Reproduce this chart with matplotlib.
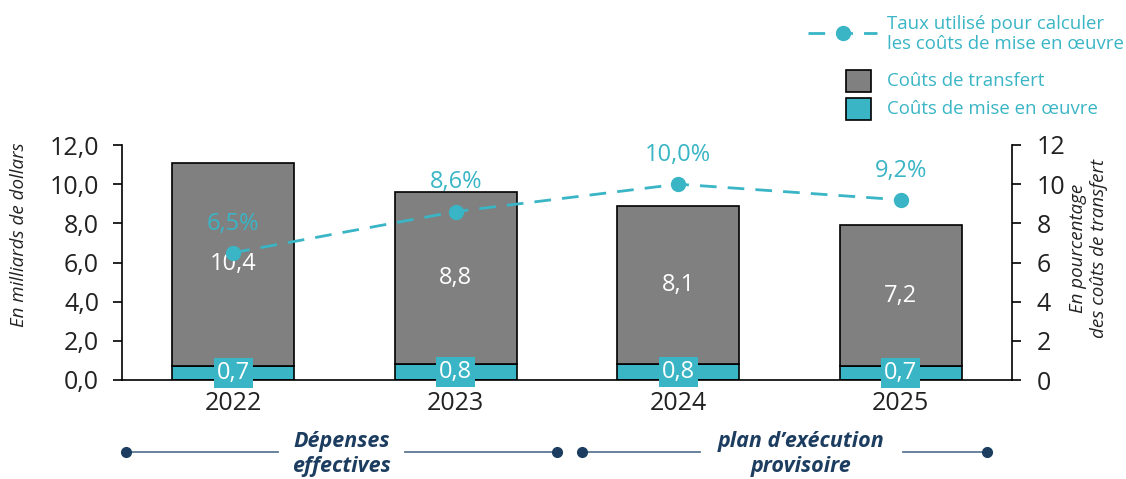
import matplotlib
matplotlib.use("Agg")
import matplotlib.pyplot as plt
from matplotlib.lines import Line2D
from matplotlib.patches import Rectangle

plt.rcParams['font.family'] = ['Open Sans', 'DejaVu Sans']

years = ["2022", "2023", "2024", "2025"]
transfer_costs = [10.4, 8.8, 8.1, 7.2]
implementation_costs = [0.7, 0.8, 0.8, 0.7]
rates = [6.5, 8.6, 10.0, 9.2]

GRAY = "#808080"
TEAL = "#39b5c5"
NAVY = "#1c3d5f"
TXT = "#222222"
W, H = 1126, 479


def fr(v, nd=1):
    return f"{v:.{nd}f}".replace(".", ",")


def px(x, y):
    return (x / W, 1 - y / H)


fig = plt.figure(figsize=(W / 100, H / 100), dpi=100)
ax = fig.add_axes([122 / W, 1 - 380 / H, (1012 - 122) / W, (380 - 145) / H])
ax2 = ax.twinx()

x = list(range(len(years)))
width = 0.55
ax.bar(x, implementation_costs, width, color=TEAL, edgecolor="black", linewidth=1.2, zorder=2)
ax.bar(x, transfer_costs, width, bottom=implementation_costs, color=GRAY,
       edgecolor="black", linewidth=1.2, zorder=2)

for i in x:
    ax.text(i, implementation_costs[i] / 2, fr(implementation_costs[i]), ha="center", va="center",
            color="white", fontsize=17, zorder=5,
            bbox=dict(boxstyle="square,pad=0.12", facecolor=TEAL, edgecolor="none"))
    ax.text(i, implementation_costs[i] + transfer_costs[i] / 2, fr(transfer_costs[i]),
            ha="center", va="center", color="white", fontsize=17, zorder=5,
            bbox=dict(boxstyle="square,pad=0.05", facecolor=GRAY, edgecolor="none"))

ax.set_xlim(-0.5, 3.5)
ax.set_ylim(0, 12)
ax.set_yticks(range(0, 13, 2))
ax.set_yticklabels([fr(v) for v in range(0, 13, 2)], fontsize=18, color=TXT)
ax.set_xticks(x)
ax.set_xticklabels(years, fontsize=18, color=TXT)
ax.tick_params(axis="x", length=0, pad=8)
ax.tick_params(axis="y", length=6.5, width=1.2, direction="out", pad=10)
ax.set_ylabel("En milliards de dollars", fontsize=13.5, style="italic", color=TXT)
ax.yaxis.set_label_coords(-0.106, 0.62)
ax.spines["top"].set_visible(False)
for s in ["left", "bottom"]:
    ax.spines[s].set_linewidth(1.2)
ax.spines["right"].set_visible(False)

# taux : ligne pointillée sur l'axe de droite
ax2.set_ylim(0, 12)
ax2.set_zorder(ax.get_zorder() + 1)
ax2.patch.set_visible(False)
ax2.plot(x, rates, color=TEAL, linestyle=(0, (6, 4)), linewidth=2, marker="o",
         markersize=10, zorder=3)
for i in x:
    ax2.annotate(fr(rates[i]) + "%", (i, rates[i]), xytext=(0, 21), textcoords="offset points",
                 ha="center", va="center", color=TEAL, fontsize=17)
ax2.set_yticks(range(0, 13, 2))
ax2.set_yticklabels([str(v) for v in range(0, 13, 2)], fontsize=18, color=TXT)
ax2.tick_params(axis="y", length=6.5, width=1.2, direction="out", pad=11)
for s in ["top", "left", "bottom"]:
    ax2.spines[s].set_visible(False)
ax2.spines["right"].set_linewidth(1.2)
ax2.set_ylabel("En pourcentage\ndes coûts de transfert", fontsize=13.5, style="italic",
               color=TXT, linespacing=1.25)
ax2.yaxis.set_label_coords(1.064, 0.56)
ax2.set_xlim(ax.get_xlim())

# légende
fig.add_artist(Line2D([px(808, 0)[0], px(877, 0)[0]], [px(0, 33)[1]] * 2,
                      transform=fig.transFigure, color=TEAL, linewidth=2,
                      linestyle=(0, (6, 4))))
fig.add_artist(Line2D([px(843, 0)[0]], [px(0, 33)[1]], transform=fig.transFigure,
                      color=TEAL, marker="o", markersize=10))
fig.text(*px(887, 34), "Taux utilisé pour calculer\nles coûts de mise en œuvre", color=TEAL,
         fontsize=13.4, va="center", ha="left", linespacing=1.2)
for yy, col, lab in [(81, GRAY, "Coûts de transfert"), (109, TEAL, "Coûts de mise en œuvre")]:
    x0, y0 = px(846, yy + 11)
    fig.add_artist(Rectangle((x0, y0), 25 / W, 22 / H, transform=fig.transFigure,
                             facecolor=col, edgecolor="black", linewidth=1.2))
    fig.text(*px(887, yy), lab, color=TEAL, fontsize=13.4, va="center", ha="left")

# périodes
periods = [(126, 557, 278, 405, "Dépenses\neffectives"),
           (582, 987, 700, 903, "plan d’exécution\nprovisoire")]
for xa, xb, ga, gb, lab in periods:
    yl = px(0, 452)[1]
    for a, b in [(xa, ga), (gb, xb)]:
        fig.add_artist(Line2D([px(a, 0)[0], px(b, 0)[0]], [yl, yl], transform=fig.transFigure,
                              color="#5b7893", linewidth=1.3))
    fig.add_artist(Line2D([px(xa, 0)[0], px(xb, 0)[0]], [yl, yl], transform=fig.transFigure,
                          linestyle="none", marker="o", markersize=7, color=NAVY))
    fig.text(px((ga + gb) / 2, 0)[0], px(0, 454)[1], lab, ha="center", va="center",
             fontsize=15.5, style="italic", weight="bold", color=NAVY, linespacing=1.2)

fig.savefig("out.png", dpi=100)
